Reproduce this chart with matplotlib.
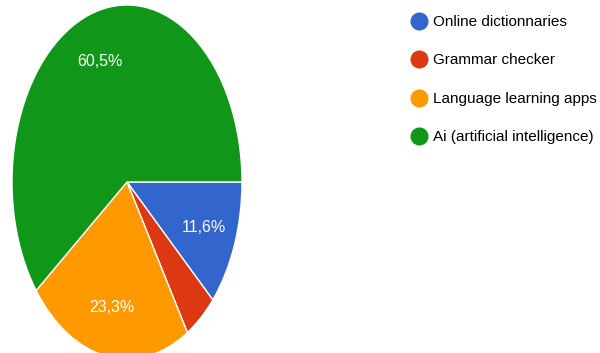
import matplotlib
matplotlib.use("Agg")
import matplotlib.pyplot as plt
from matplotlib.lines import Line2D

categories = ["Online dictionnaries", "Grammar checker", "Language learning apps", "Ai (artificial intelligence)"]
values = [11.6, 4.6, 23.3, 60.5]
colors = ["#3366cc", "#dc3912", "#ff9900", "#109618"]

plt.rcParams['font.family'] = ['Liberation Sans', 'DejaVu Sans']

fig = plt.figure(figsize=(6.0, 3.53), dpi=100)
ax = fig.add_axes([12/600, -6/353, 230/600, 354/353])


def fmt(p):
    return (f"{p:.1f}%".replace(".", ",")) if p >= 5 else ""


wedges, texts, autotexts = ax.pie(
    values, colors=colors, startangle=0, counterclock=False,
    autopct=fmt, pctdistance=0.72,
    wedgeprops=dict(edgecolor="white", linewidth=1.0),
    textprops=dict(color="white", fontsize=11.5))
ax.set_aspect('auto')
ax.set_xlim(-1, 1)
ax.set_ylim(-1, 1)

handles = [Line2D([], [], marker='o', linestyle='none', markersize=12,
                  markerfacecolor=c, markeredgecolor=c) for c in colors]
fig.legend(handles, categories, loc='upper left', bbox_to_anchor=(410/600, 1 - 15/353),
           frameon=False, fontsize=11, labelspacing=1.6, handletextpad=0.3,
           handlelength=1.2, borderpad=0, borderaxespad=0)

fig.savefig("out.png", dpi=100)
